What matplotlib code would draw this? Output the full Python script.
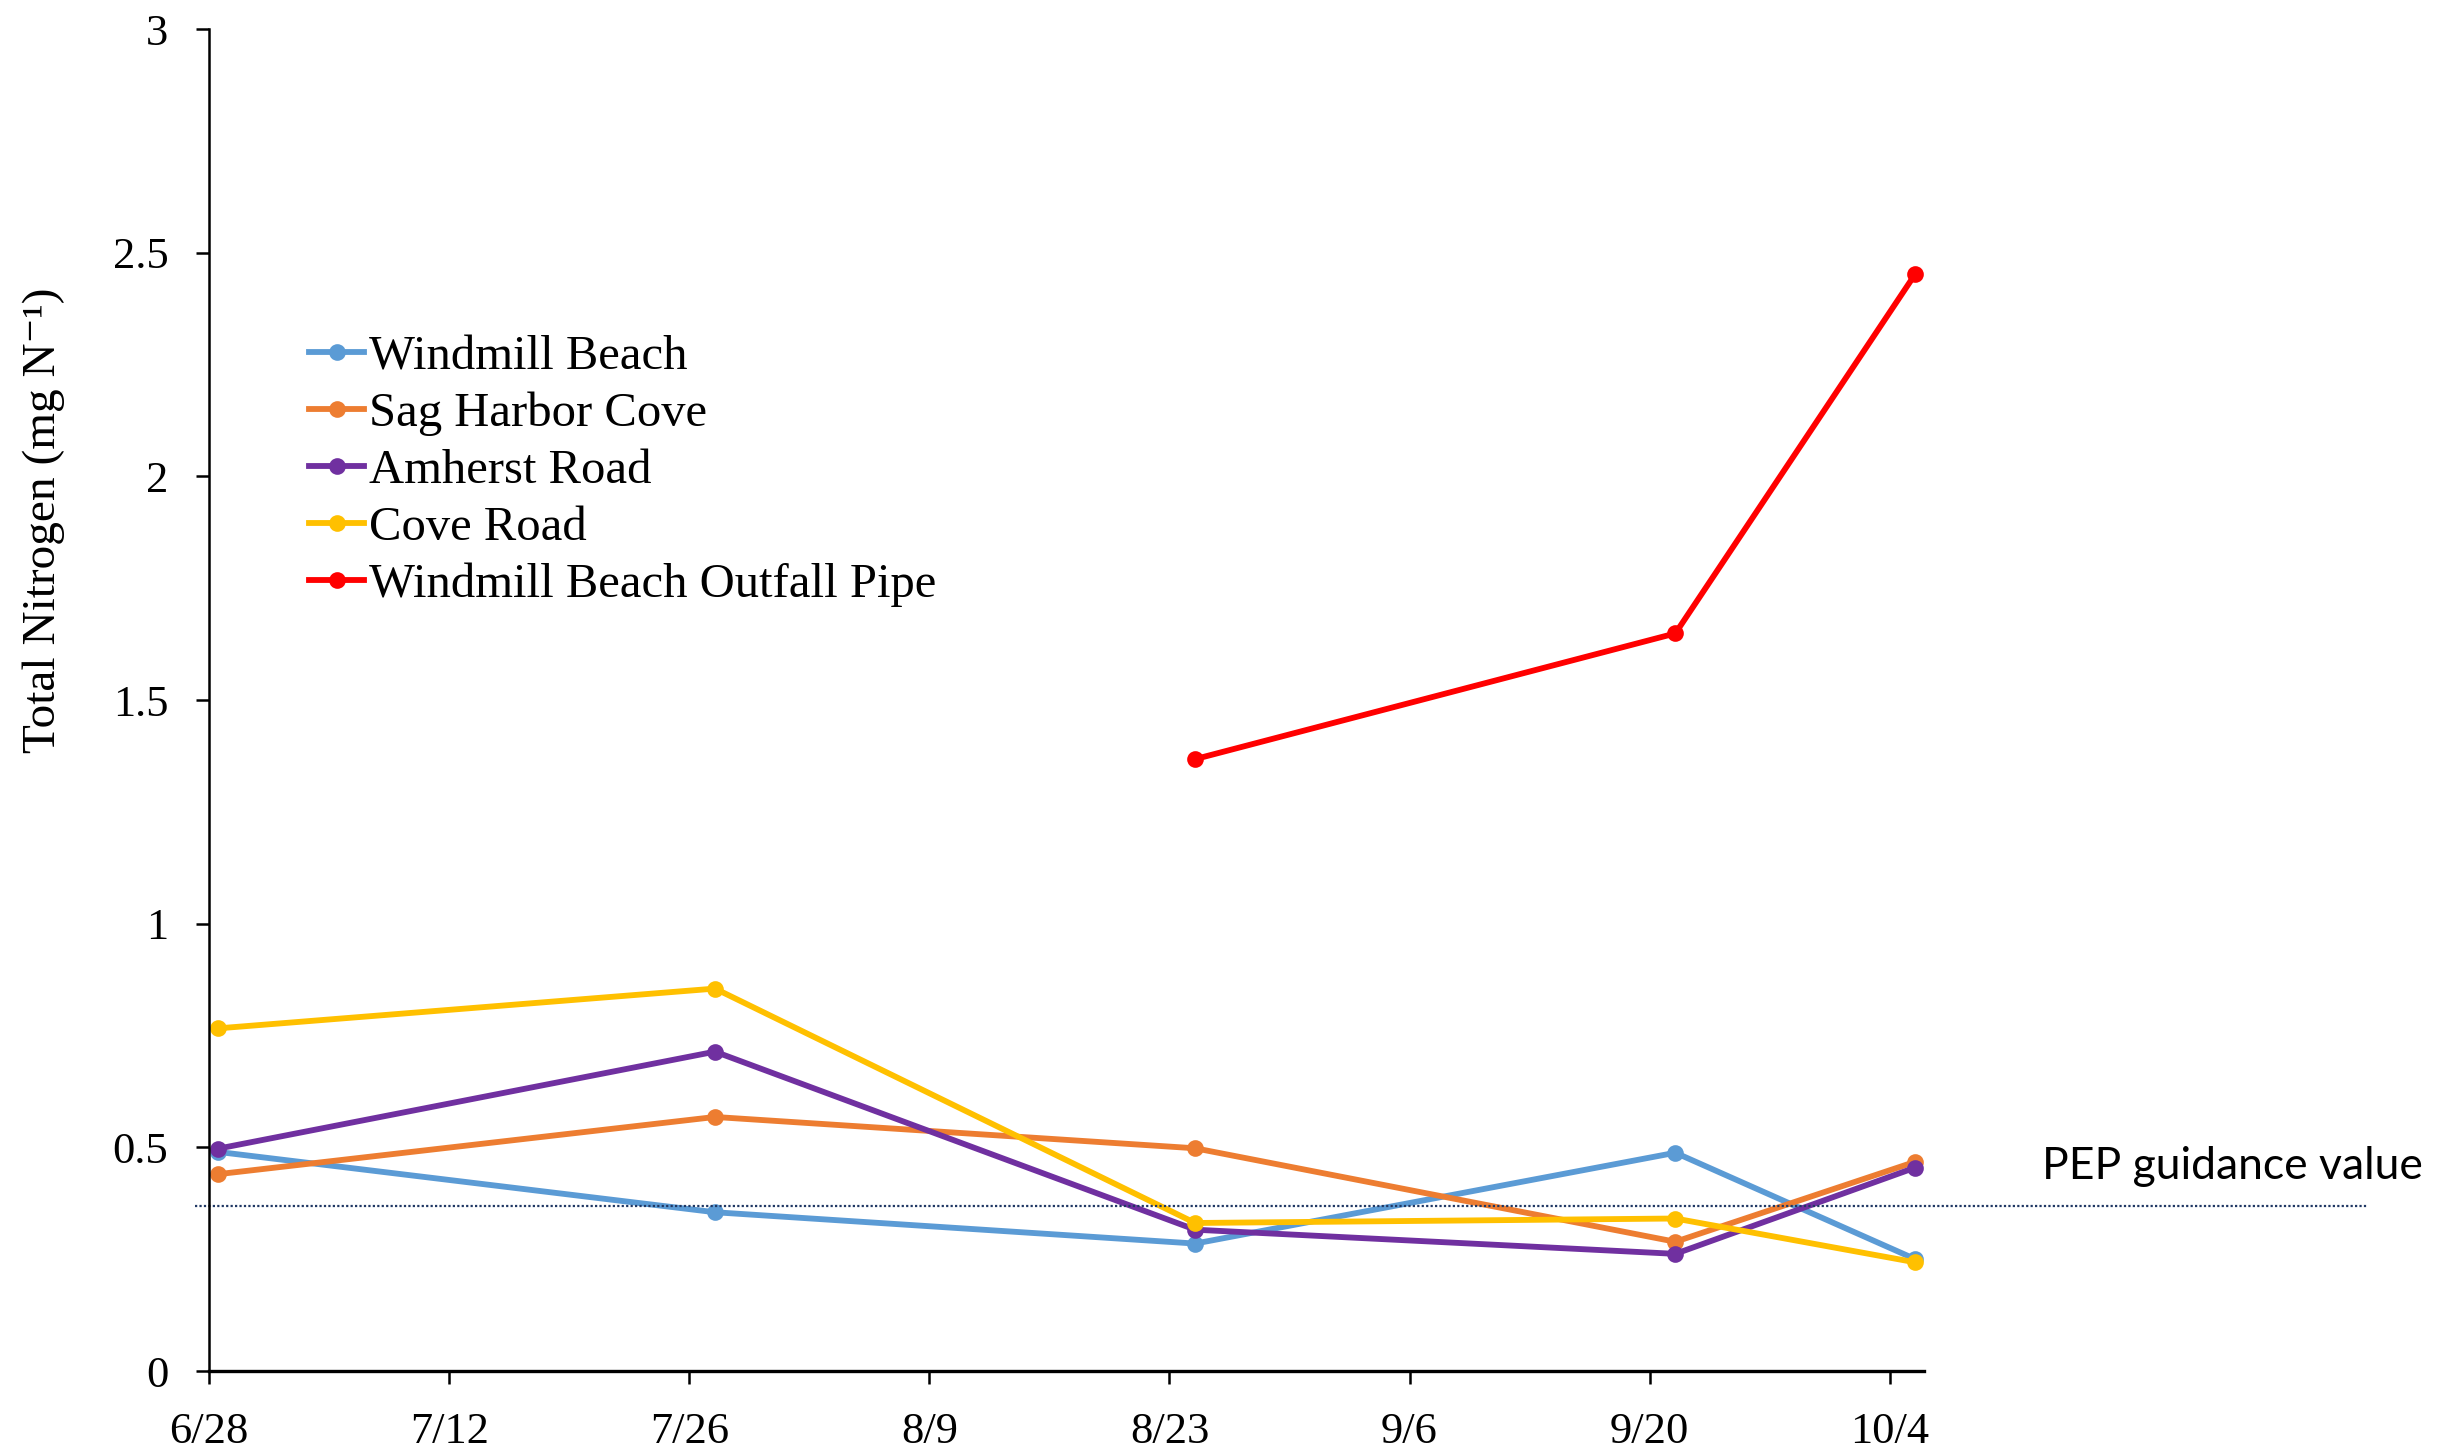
import matplotlib
matplotlib.use('Agg')
import matplotlib.pyplot as plt
import matplotlib.dates as mdates
import matplotlib.transforms as mtransforms
import numpy as np
import pandas as pd

plt.rcParams['font.family'] = ['Liberation Serif', 'DejaVu Serif']

# sampling dates and total nitrogen per site (mg N-1)
sample_dates = pd.to_datetime(['2021-06-28', '2021-07-27', '2021-08-24', '2021-09-21', '2021-10-05'])
windmill_beach = [0.49, 0.355, 0.285, 0.488, 0.25]
sag_harbor_cove = [0.44, 0.568, 0.498, 0.289, 0.468]
amherst_road = [0.497, 0.714, 0.316, 0.262, 0.455]
cove_road = [0.766, 0.855, 0.331, 0.341, 0.243]
outfall_pipe = [np.nan, np.nan, 1.368, 1.649, 2.453]
pep_guidance = 0.37

series = [
    ('Windmill Beach', windmill_beach, '#5B9BD5'),
    ('Sag Harbor Cove', sag_harbor_cove, '#ED7D31'),
    ('Amherst Road', amherst_road, '#7030A0'),
    ('Cove Road', cove_road, '#FFC000'),
    ('Windmill Beach Outfall Pipe', outfall_pipe, '#FF0000'),
]

fig = plt.figure(figsize=(12.185, 7.265), dpi=200)
ax = fig.add_axes([0.0858, 0.0564, 0.7037, 0.9236])

# Excel date axis puts each point in the middle of its day
x = sample_dates + pd.Timedelta(hours=12)
for name, vals, col in series:
    ax.plot(x, vals, color=col, lw=2.1, marker='o', ms=5, label=name)

ax.axhline(pep_guidance, xmin=-0.008, xmax=1.259, clip_on=False,
           color='#203864', lw=0.8, ls=(0, (1, 1)))
trans = mtransforms.blended_transform_factory(ax.transAxes, ax.transData)
ax.text(1.069, pep_guidance + 0.042, 'PEP guidance value', transform=trans,
        family=['Lato', 'DejaVu Sans'], fontsize=16, ha='left', va='bottom')

ax.set_xlim(pd.Timestamp('2021-06-28'), pd.Timestamp('2021-10-06'))
ax.set_ylim(0, 3)
ax.set_xticks(pd.date_range('2021-06-28', '2021-10-04', freq='14D'))
ax.xaxis.set_major_formatter(plt.FuncFormatter(
    lambda v, p: f"{mdates.num2date(v).month}/{mdates.num2date(v).day}"))
ax.set_yticks([0, 0.5, 1, 1.5, 2, 2.5, 3])
ax.set_yticklabels(['0', '0.5', '1', '1.5', '2', '2.5', '3'])

for s in ['top', 'right']:
    ax.spines[s].set_visible(False)
ax.spines['left'].set_linewidth(0.9)
ax.spines['bottom'].set_linewidth(1.2)
ax.tick_params(axis='both', direction='out', length=4.7, width=0.9, labelsize=16)
ax.tick_params(axis='y', pad=10)
ax.tick_params(axis='x', pad=10)

ax.set_ylabel('Total Nitrogen (mg N\u207b\u00b9)', fontsize=17)
ax.yaxis.set_label_coords(-0.084, 0.634)

ax.legend(loc='upper left', bbox_to_anchor=(0.058, 0.772), frameon=False,
          fontsize=17.5, handlelength=1.15, handletextpad=0.1, labelspacing=0.26,
          borderpad=0, borderaxespad=0)

fig.savefig('out.png', dpi=200)
